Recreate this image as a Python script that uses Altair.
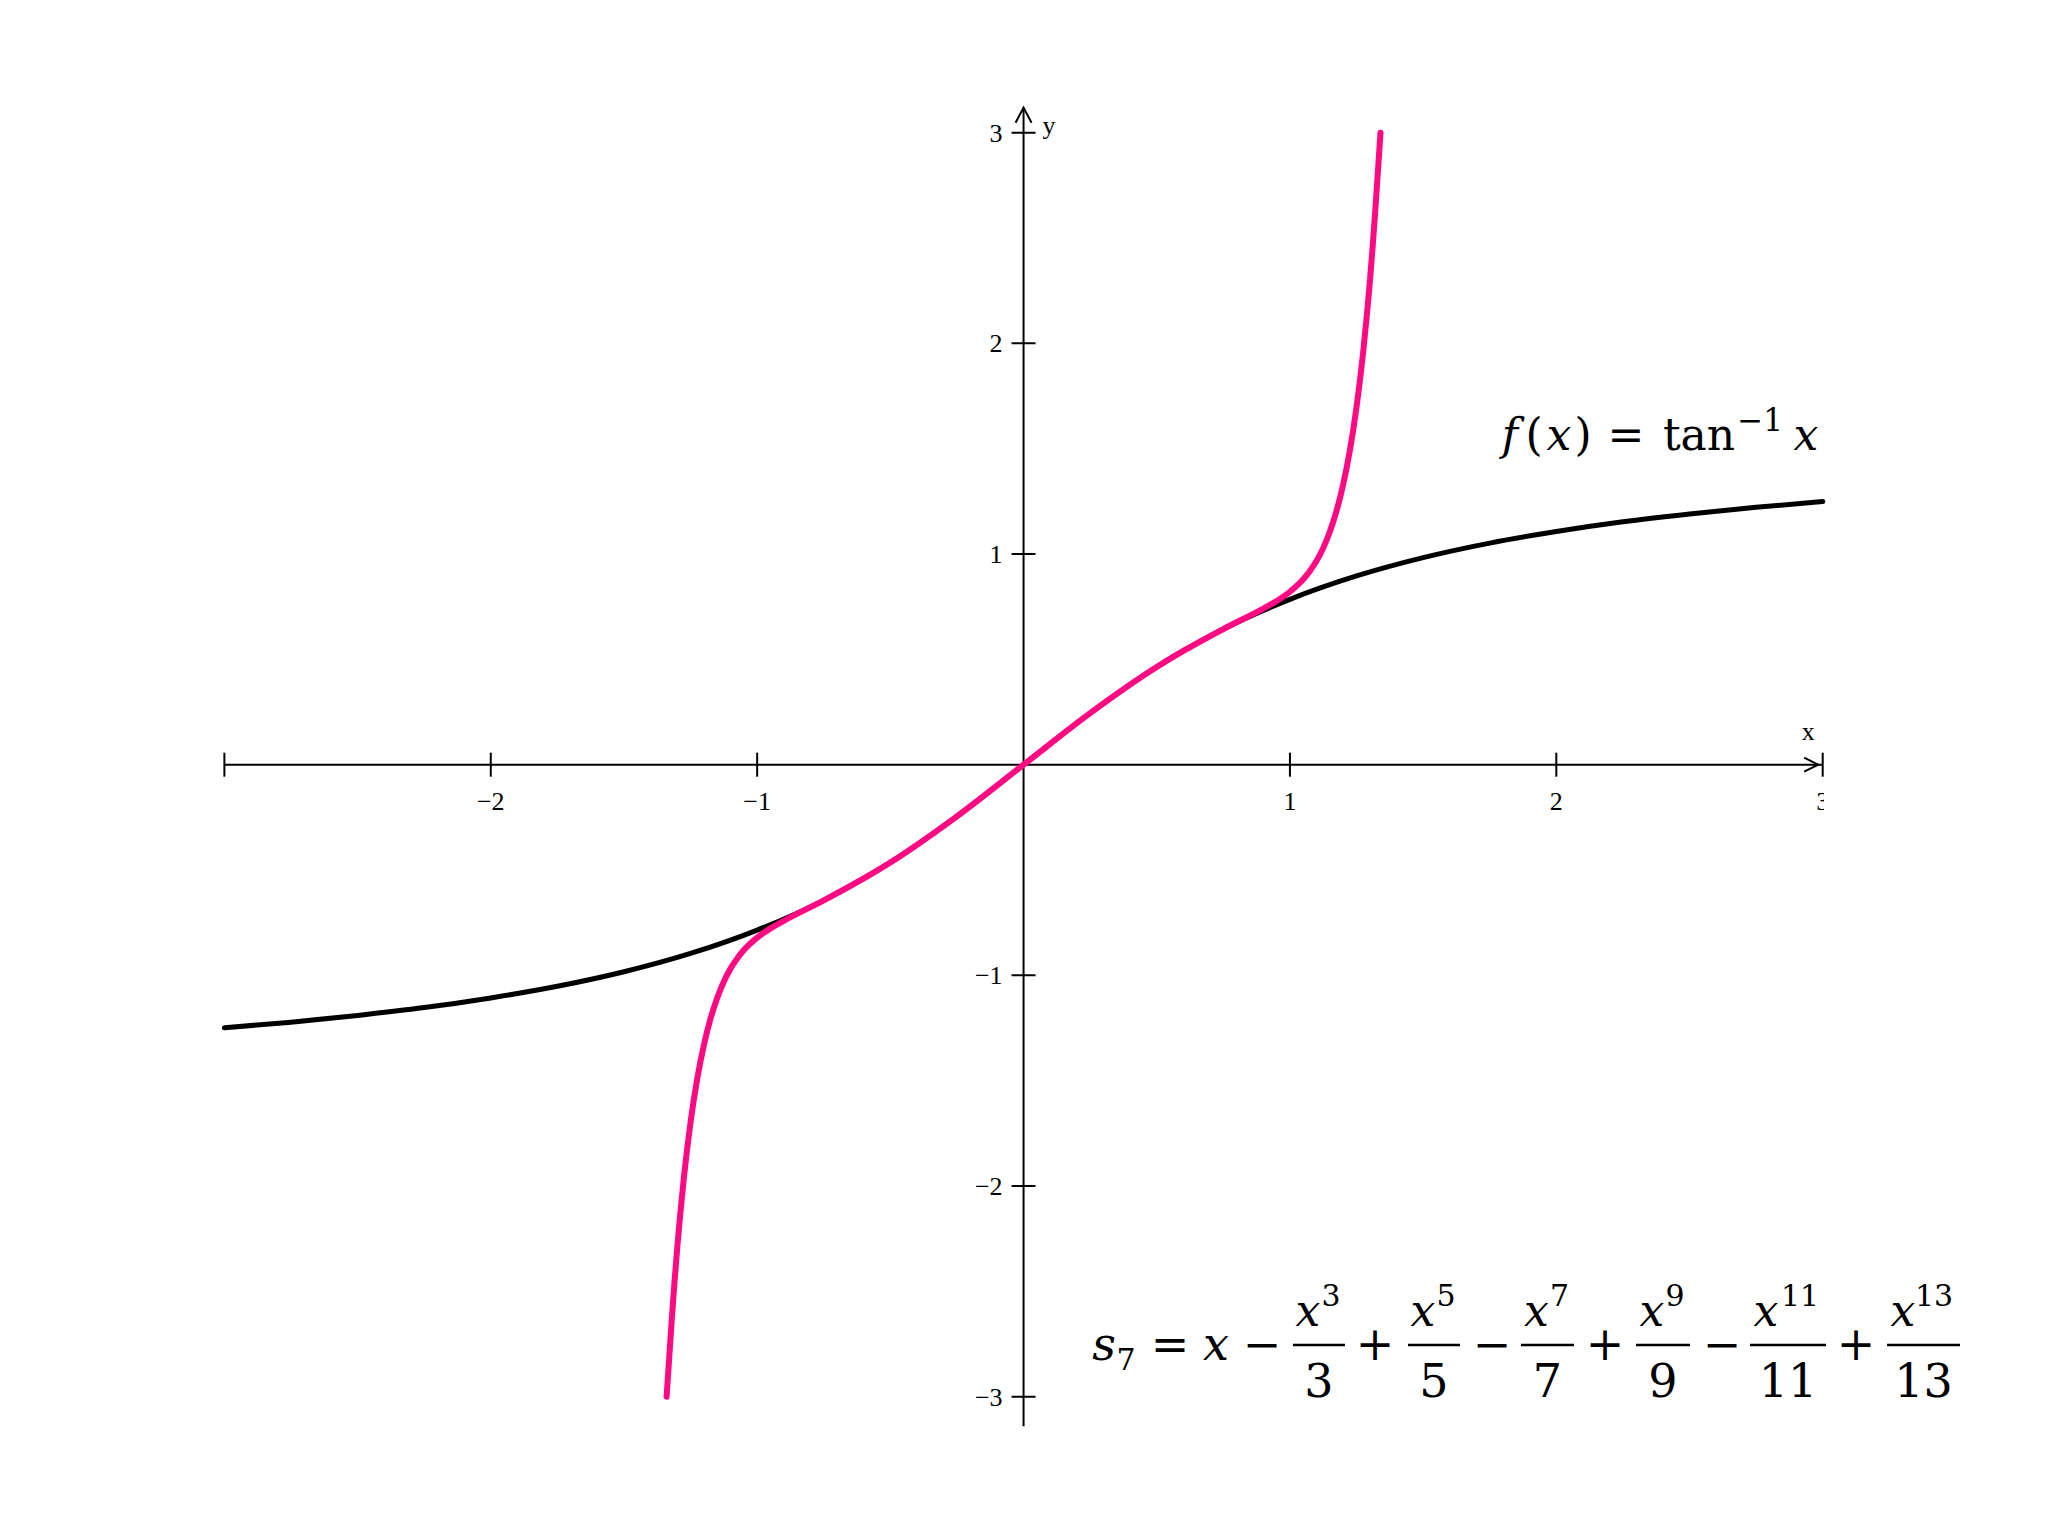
import altair as alt
import pandas as pd

# ---------------- data ----------------
ATAN_X = [-3.0, -2.75, -2.5, -2.25, -2.0, -1.75, -1.5, -1.25, -1.0, -0.75, -0.5, -0.25, 0.0,
          0.25, 0.5, 0.75, 1.0, 1.25, 1.5, 1.75, 2.0, 2.25, 2.5, 2.75, 3.0]
ATAN_Y = [-1.249, -1.222, -1.190, -1.153, -1.107, -1.052, -0.983, -0.896, -0.785, -0.644, -0.464, -0.245, 0.0,
          0.245, 0.464, 0.644, 0.785, 0.896, 0.983, 1.052, 1.107, 1.153, 1.190, 1.222, 1.249]

S7_X = [-1.34, -1.32, -1.31, -1.3, -1.29, -1.275, -1.25, -1.225, -1.2, -1.175, -1.15, -1.125, -1.1,
        -1.075, -1.05, -1.0, -0.95, -0.9, -0.75, -0.6, -0.5, -0.25, 0.0,
        0.25, 0.5, 0.6, 0.75, 0.9, 0.95, 1.0, 1.05, 1.075, 1.1, 1.125, 1.15, 1.175, 1.2,
        1.225, 1.25, 1.275, 1.29, 1.3, 1.31, 1.32, 1.34]
S7_Y = [-3.0, -2.623, -2.450, -2.293, -2.150, -1.959, -1.697, -1.491, -1.331, -1.205, -1.107, -1.029, -0.968,
        -0.920, -0.880, -0.821, -0.777, -0.741, -0.644, -0.540, -0.464, -0.245, 0.0,
        0.245, 0.464, 0.540, 0.644, 0.741, 0.777, 0.821, 0.880, 0.920, 0.968, 1.029, 1.107, 1.205, 1.331,
        1.491, 1.697, 1.959, 2.150, 2.293, 2.450, 2.623, 3.0]

X_TICKS = [-3, -2, -1, 1, 2, 3]
X_LABEL_VALUES = [-2, -1, 1, 2, 3]
X_LABELS = ["\u22122", "\u22121", "1", "2", "3"]
Y_TICKS = [-3, -2, -1, 1, 2, 3]
Y_LABELS = ["\u22123", "\u22122", "\u22121", "1", "2", "3"]

AXIS_NAMES = ["x", "y"]
AXIS_NAME_X = [2.946, 0.096]
AXIS_NAME_Y = [0.155, 3.03]

# ---------------- layout ----------------
OFF = 8  # page margin
xsc = alt.Scale(domain=[-3, 3], range=[224.4 - OFF, 1822.7 - OFF])
ysc = alt.Scale(domain=[-3, 3], range=[1396.7 - OFF, 132.7 - OFF])


def X(f):
    return alt.X(f, type="quantitative", scale=xsc, axis=None)


def Y(f):
    return alt.Y(f, type="quantitative", scale=ysc, axis=None)


TICK_FONT = "Liberation Serif"
MATH_FONT = "DejaVu Serif"
TICK_SIZE = 26

axes_df = pd.DataFrame({"x": [-3, 0], "x2": [3, 0], "y": [0, -3.14], "y2": [0, 3.119]})
axis_lines = alt.Chart(axes_df).mark_rule(color="black", strokeWidth=2).encode(
    x=X("x"), x2="x2", y=Y("y"), y2="y2")

xt = alt.Chart(pd.DataFrame({"x": X_TICKS, "y": [0] * len(X_TICKS)})).mark_tick(
    orient="vertical", size=24, thickness=2, color="black", opacity=1).encode(x=X("x"), y=Y("y"))
yt = alt.Chart(pd.DataFrame({"y": Y_TICKS, "x": [0] * len(Y_TICKS)})).mark_tick(
    orient="horizontal", size=24, thickness=2, color="black", opacity=1).encode(x=X("x"), y=Y("y"))

xl = alt.Chart(pd.DataFrame({"x": X_LABEL_VALUES, "y": [0] * len(X_LABEL_VALUES), "t": X_LABELS})).mark_text(
    font=TICK_FONT, fontSize=TICK_SIZE, baseline="middle", align="center", dy=37, color="black").encode(
    x=X("x"), y=Y("y"), text="t:N")
yl = alt.Chart(pd.DataFrame({"y": Y_TICKS, "x": [0] * len(Y_TICKS), "t": Y_LABELS})).mark_text(
    font=TICK_FONT, fontSize=TICK_SIZE, baseline="middle", align="right", dx=-21, dy=1, color="black").encode(
    x=X("x"), y=Y("y"), text="t:N")

names = alt.Chart(pd.DataFrame({"x": AXIS_NAME_X, "y": AXIS_NAME_Y, "t": AXIS_NAMES})).mark_text(
    font=TICK_FONT, fontSize=TICK_SIZE, baseline="middle", align="center", color="black").encode(
    x=X("x"), y=Y("y"), text="t:N")

arrow_x = alt.Chart(pd.DataFrame({"x": [2.983], "y": [0]})).mark_point(
    shape="M-2,-1L0,0L-2,1", size=196, filled=False, strokeWidth=2, color="black", opacity=1).encode(
    x=X("x"), y=Y("y"))
arrow_y = alt.Chart(pd.DataFrame({"x": [0], "y": [3.119]})).mark_point(
    shape="M-1,1.9L0,0L1,1.9", size=256, filled=False, strokeWidth=2, color="black", opacity=1).encode(
    x=X("x"), y=Y("y"))

# the right-end label "3" is cut off in the original
cover = alt.Chart(pd.DataFrame({"a": [0]})).mark_rect(color="white").encode(
    x=alt.value(1824 - OFF), x2=alt.value(1850 - OFF), y=alt.value(780 - OFF), y2=alt.value(822 - OFF))

atan_line = alt.Chart(pd.DataFrame({"x": ATAN_X, "y": ATAN_Y})).mark_line(
    color="black", strokeWidth=5, interpolate="monotone", strokeCap="round").encode(
    x=X("x"), y=Y("y"), order="x:Q")
s7_line = alt.Chart(pd.DataFrame({"x": S7_X, "y": S7_Y})).mark_line(
    color="#FF0A82", strokeWidth=6, interpolate="monotone", strokeCap="round").encode(
    x=X("x"), y=Y("y"), order="x:Q")

# ---------------- formulas (page pixel layout) ----------------
# (text, centre x, baseline y, size, italic)
pieces = [
    ("f", 1510, 450, 44, True), ("(", 1534, 450, 44, False), ("x", 1559, 450, 44, True),
    (")", 1583, 450, 44, False), ("=", 1626, 450, 44, False), ("tan", 1699, 450, 44, False),
    ("\u22121", 1760, 431, 31, False), ("x", 1806, 450, 44, True),
    ("s", 1104, 1360, 46, True), ("7", 1126, 1370, 30, False), ("=", 1170, 1360, 46, False),
    ("x", 1216, 1360, 46, True), ("\u2212", 1262, 1360, 46, False),
    ("+", 1375, 1360, 46, False), ("\u2212", 1492, 1360, 46, False), ("+", 1605, 1360, 46, False),
    ("\u2212", 1722, 1360, 46, False), ("+", 1856, 1360, 46, False),
]
BARS = [(1293, 1345), (1408, 1460), (1521, 1574), (1636, 1690), (1750, 1826), (1887, 1960)]
EXPS = ["3", "5", "7", "9", "11", "13"]
DENS = ["3", "5", "7", "9", "11", "13"]
for (a, b), e, d in zip(BARS, EXPS, DENS):
    c = (a + b) / 2
    if len(e) == 1:
        pieces.append(("x", c - 11, 1326, 44, True))
        pieces.append((e, c + 12, 1306, 30, False))
    else:
        pieces.append(("x", a + 16, 1326, 44, True))
        pieces.append((e, b - 26, 1306, 30, False))
    pieces.append((d, c, 1397, 46, False))

pdf = pd.DataFrame(pieces, columns=["t", "px", "py", "sz", "it"])
pdf["px"] = pdf["px"] - OFF
pdf["py"] = pdf["py"] - OFF


def text_layer(df, style):
    return alt.Chart(df).mark_text(font=MATH_FONT, fontStyle=style, baseline="alphabetic",
                                   align="center", color="black").encode(
        x=alt.X("px:Q", scale=None, axis=None), y=alt.Y("py:Q", scale=None, axis=None),
        size=alt.Size("sz:Q", scale=None, legend=None), text="t:N")


t_norm = text_layer(pdf[~pdf["it"]], "normal")
t_ital = text_layer(pdf[pdf["it"]], "italic")

bdf = pd.DataFrame({"x": [a - OFF for a, b in BARS], "x2": [b - OFF for a, b in BARS],
                    "y": [1345 - OFF] * len(BARS)})
bars = alt.Chart(bdf).mark_rule(color="black", strokeWidth=2.5).encode(
    x=alt.X("x:Q", scale=None, axis=None), x2="x2:Q", y=alt.Y("y:Q", scale=None, axis=None))

chart = alt.layer(
    axis_lines, xt, yt, xl, cover, yl, names, arrow_x, arrow_y,
    atan_line, s7_line, t_norm, t_ital, bars
).resolve_scale(x="independent", y="independent", size="independent").properties(
    width=2032, height=1520, padding=0, autosize="none"
).configure_view(stroke=None)

chart.save("out.html", embed_options={"renderer": "svg", "actions": False})
